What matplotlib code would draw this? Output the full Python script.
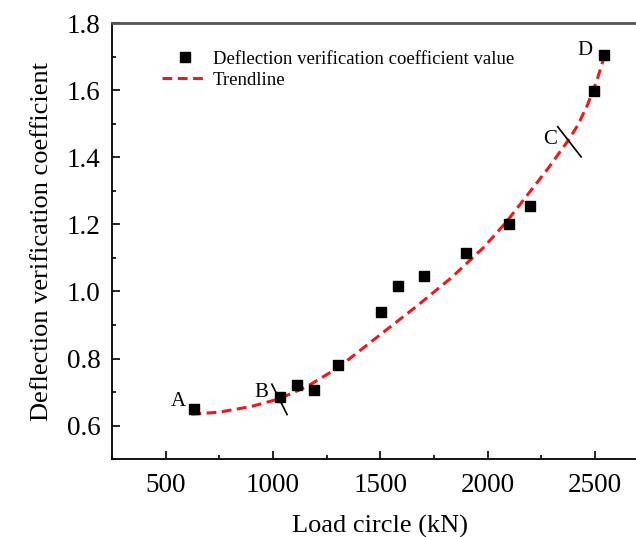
import matplotlib
matplotlib.use('Agg')
import matplotlib.pyplot as plt
from matplotlib.ticker import MultipleLocator, FormatStrFormatter

# data
load_kn = [632, 1035, 1112, 1190, 1301, 1502, 1583, 1704, 1901, 2102, 2200, 2498, 2541]
coef = [0.650, 0.685, 0.722, 0.705, 0.780, 0.939, 1.017, 1.045, 1.115, 1.200, 1.255, 1.598, 1.705]

trend_x = [620, 750, 900, 1030, 1160, 1300, 1360, 1520, 1670, 1830, 1980, 2085, 2280, 2370,
           2420, 2465, 2510, 2545]
trend_y = [0.634, 0.640, 0.657, 0.680, 0.717, 0.771, 0.801, 0.881, 0.956, 1.040, 1.130, 1.205,
           1.365, 1.445, 1.495, 1.555, 1.630, 1.703]

point_names = ['A', 'B', 'C', 'D']
name_x = [558, 945, 2293, 2456]
name_y = [0.672, 0.700, 1.454, 1.718]

# short stage boundary marks at B and C
cut_x = [[995, 1066], [2327, 2436]]
cut_y = [[0.7235, 0.633], [1.491, 1.401]]

plt.rcParams['font.family'] = ['Liberation Serif', 'DejaVu Serif']

fig = plt.figure(figsize=(6.36, 5.37), dpi=100)
ax = fig.add_axes([0.176, 0.145, 0.8437, 0.812])

ax.plot(trend_x, trend_y, color='#f01818', linestyle='--', linewidth=2.2,
        dashes=(3.2, 1.8), label='Trendline', zorder=2)
ax.plot(load_kn, coef, linestyle='none', marker='s', markersize=7.5, color='black',
        label='Deflection verification coefficient value', zorder=3)

for xs, ys in zip(cut_x, cut_y):
    ax.plot(xs, ys, color='black', linewidth=1.2, zorder=4)
for name, tx, ty in zip(point_names, name_x, name_y):
    ax.text(tx, ty, name, fontsize=15, ha='center', va='center')

ax.set_xlim(250, 2750)
ax.set_ylim(0.5, 1.8)
ax.xaxis.set_major_locator(MultipleLocator(500))
ax.xaxis.set_minor_locator(MultipleLocator(250))
ax.yaxis.set_major_locator(MultipleLocator(0.2))
ax.yaxis.set_minor_locator(MultipleLocator(0.1))
ax.tick_params(which='both', direction='in', labelsize=19.5, top=False, right=False)
ax.tick_params(which='major', length=6, width=1.2)
ax.tick_params(which='minor', length=3, width=1.2)
ax.tick_params(axis='x', pad=10)
ax.tick_params(axis='y', pad=8)
ax.yaxis.set_major_formatter(FormatStrFormatter('%.1f'))
for s in ax.spines.values():
    s.set_linewidth(1.3)
ax.spines['top'].set_color('#555555')
ax.spines['top'].set_linewidth(2)

ax.set_xlabel('Load circle (kN)', fontsize=19, labelpad=12)
ax.set_ylabel('Deflection verification coefficient', fontsize=19, labelpad=10)

handles, labels = ax.get_legend_handles_labels()
ax.legend(handles[::-1], labels[::-1], loc='upper left', bbox_to_anchor=(0.062, 0.975),
          frameon=False, fontsize=13.5, handlelength=2.4, handletextpad=0.3,
          labelspacing=0.2)

plt.savefig('out.png', dpi=100)
